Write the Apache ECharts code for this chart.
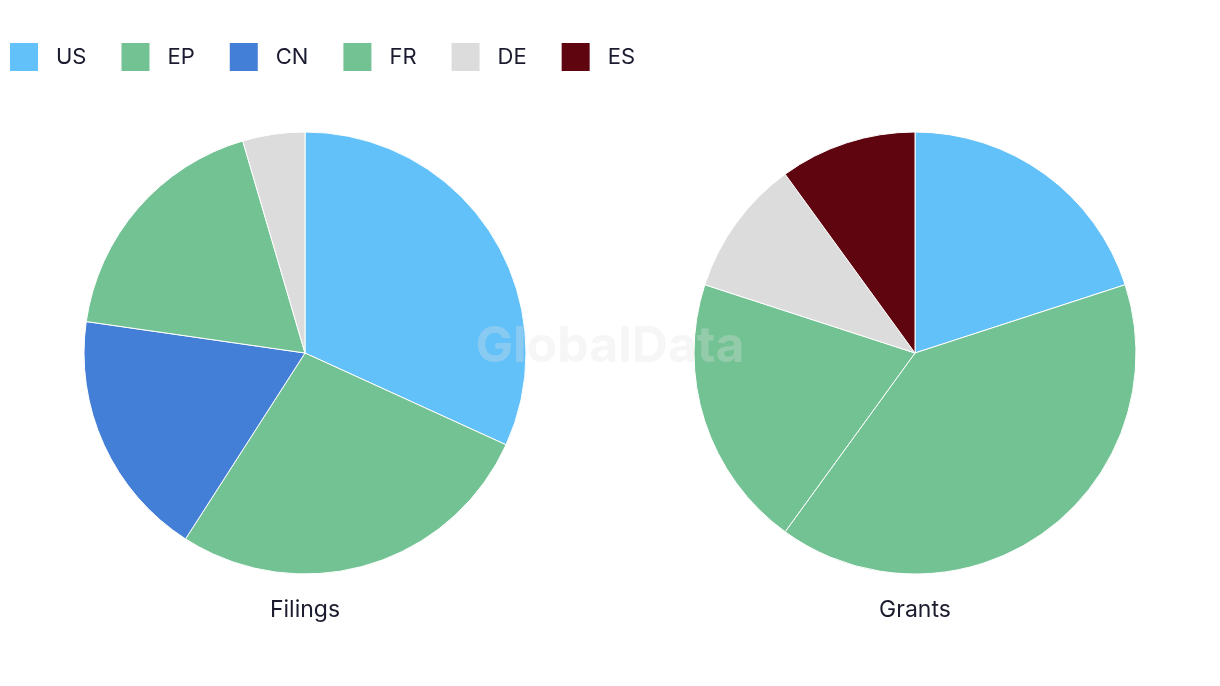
<!DOCTYPE html>
<html>
<head>
<meta charset="utf-8">
<script src="https://cdn.jsdelivr.net/npm/echarts@6/dist/echarts.min.js"></script>
<style>html,body{margin:0;padding:0;background:#fff;}#c{width:1220px;height:686px;}</style>
</head>
<body>
<div id="c"></div>
<script>
const legendNames = ['US', 'EP', 'CN', 'FR', 'DE', 'ES'];
const legendColors = ['#62C1F9', '#73C293', '#437FD6', '#73C293', '#DCDCDC', '#5F0510'];
const filingsNames = ['US', 'EP', 'CN', 'FR', 'DE'];
const filingsValues = [7, 6, 4, 4, 1];
const grantsNames = ['US', 'EP', 'FR', 'DE', 'ES'];
const grantsValues = [2, 4, 2, 1, 1];
const pieTitles = ['Filings', 'Grants'];

const colorOf = n => legendColors[legendNames.indexOf(n)];
const mk = (names, vals) => names.map((n, i) => ({ name: n, value: vals[i], itemStyle: { color: colorOf(n) } }));

const chart = echarts.init(document.getElementById('c'), null, { renderer: 'canvas' });
const textColor = '#1b1b2f';
chart.setOption({
  animation: false,
  backgroundColor: '#ffffff',
  legend: {
    left: 10, top: 43, padding: 0,
    itemWidth: 28, itemHeight: 28, itemGap: 35,
    icon: 'rect',
    itemStyle: { borderWidth: 0 },
    data: legendNames.map((n, i) => ({ name: n, itemStyle: { color: legendColors[i], borderWidth: 0 } })),
    textStyle: { fontFamily: 'Inter', fontSize: 22, color: textColor, padding: [2, 0, 0, 13] },
    selectedMode: false
  },
  title: [
    { text: pieTitles[0], left: 305, top: 599, padding: 0, textAlign: 'center', textStyle: { fontFamily: 'Inter', fontSize: 23, fontWeight: 'normal', color: textColor } },
    { text: pieTitles[1], left: 915, top: 599, padding: 0, textAlign: 'center', textStyle: { fontFamily: 'Inter', fontSize: 23, fontWeight: 'normal', color: textColor } }
  ],
  graphic: [{
    type: 'text', left: 'center', top: 322, z: 100, silent: true,
    style: { text: 'GlobalData', font: 'bold 50px Inter', fill: 'rgba(225,225,225,0.3)' }
  }],
  series: [
    {
      type: 'pie', center: [305, 353], radius: [0, 221], startAngle: 90, clockwise: true,
      label: { show: false }, labelLine: { show: false }, silent: true,
      itemStyle: { borderColor: '#ffffff', borderWidth: 1 },
      data: mk(filingsNames, filingsValues)
    },
    {
      type: 'pie', center: [915, 353], radius: [0, 221], startAngle: 90, clockwise: true,
      label: { show: false }, labelLine: { show: false }, silent: true,
      itemStyle: { borderColor: '#ffffff', borderWidth: 1 },
      data: mk(grantsNames, grantsValues)
    }
  ]
});
</script>
</body>
</html>
